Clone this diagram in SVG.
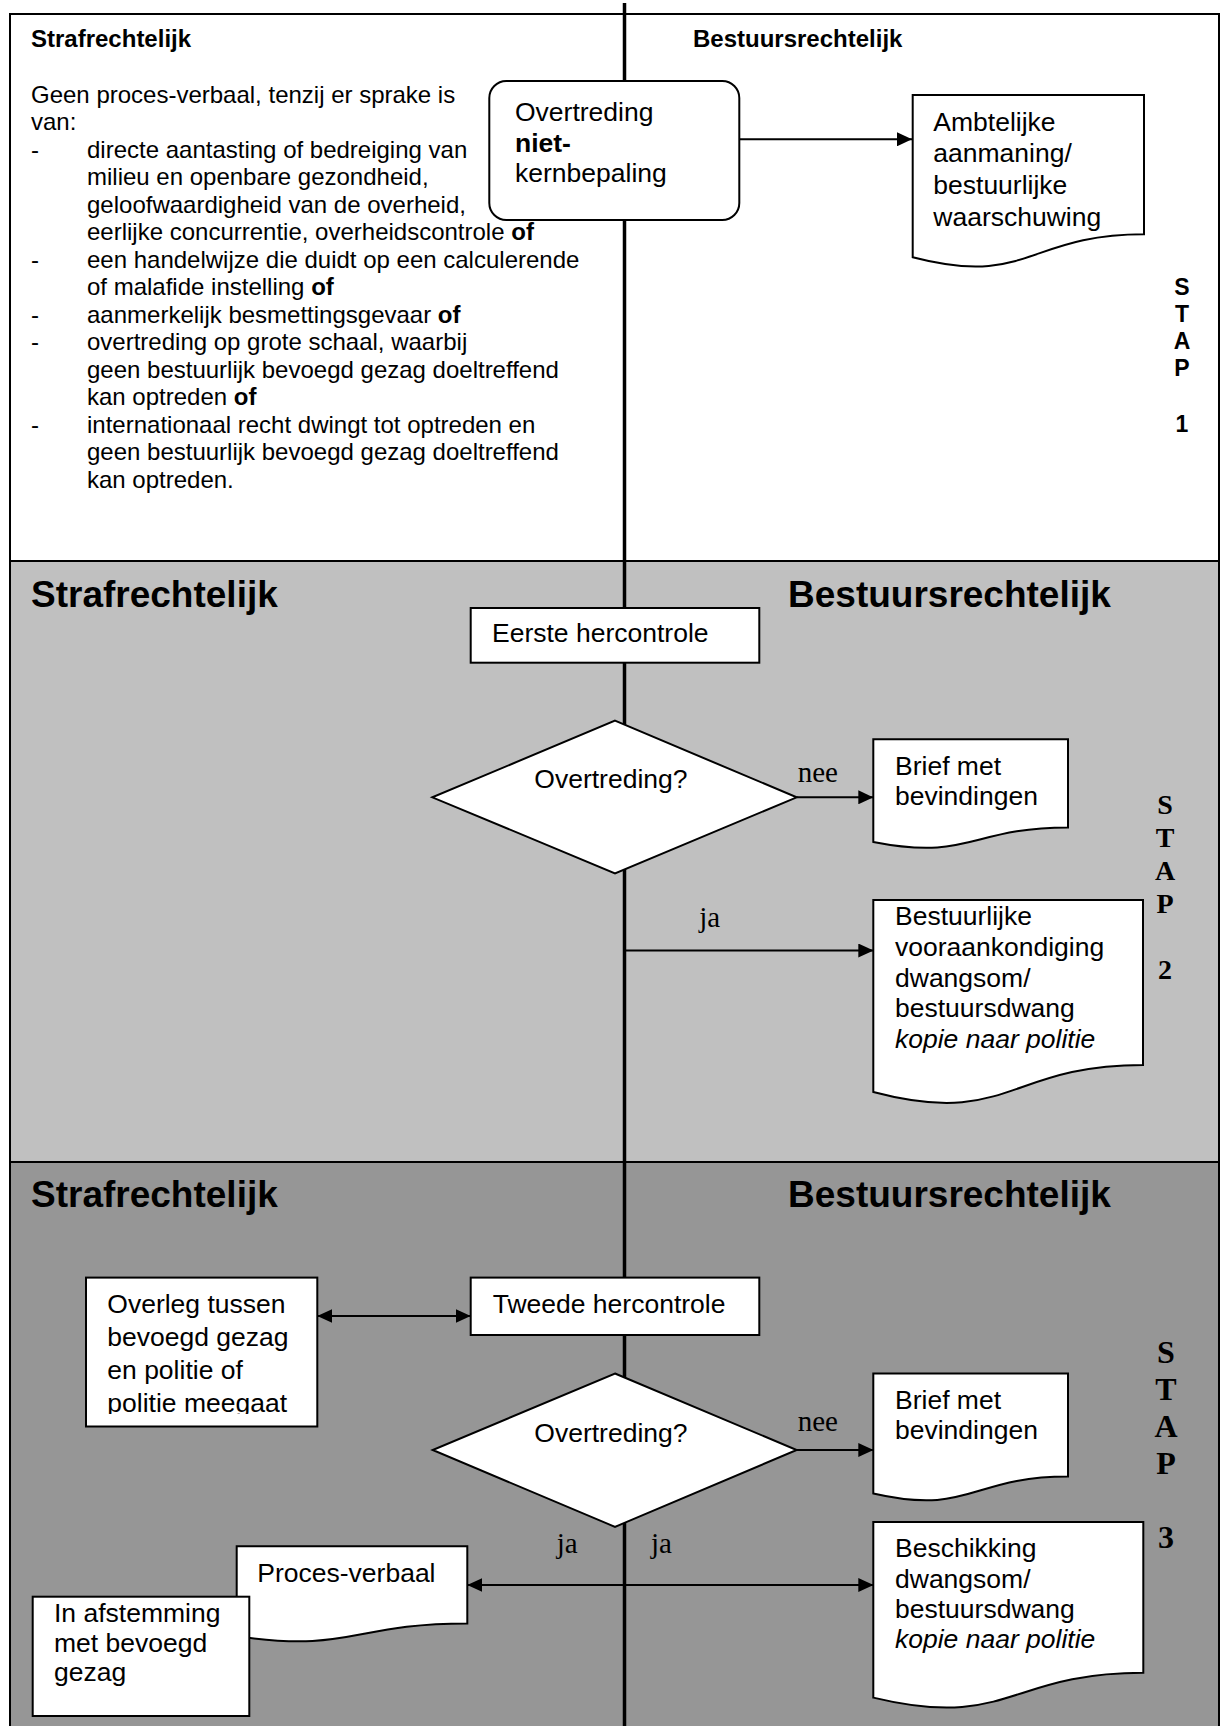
<svg xmlns="http://www.w3.org/2000/svg" width="1226" height="1726" viewBox="0 0 1226 1726">
<style>
.sec{stroke:#000;stroke-width:2}
.box{fill:#fff;stroke:#000;stroke-width:2}
.conn{stroke:#000;stroke-width:2;fill:none}
.t{font-family:"Liberation Sans",Arial,sans-serif;font-size:26.5px;fill:#000}
.body{font-family:"Liberation Sans",Arial,sans-serif;font-size:24px;fill:#000}
.h1{font-family:"Liberation Sans",Arial,sans-serif;font-size:24px;font-weight:bold;fill:#000}
.h2{font-family:"Liberation Sans",Arial,sans-serif;font-size:37px;font-weight:bold;fill:#000}
.lbl{font-family:"Liberation Serif","Times New Roman",serif;font-size:29px;fill:#000}
.stap1{font-family:"Liberation Sans",Arial,sans-serif;font-size:23px;font-weight:bold;text-anchor:middle}
.stap2{font-family:"Liberation Serif","Times New Roman",serif;font-size:28px;font-weight:bold;text-anchor:middle}
.stap3{font-family:"Liberation Serif","Times New Roman",serif;font-size:32px;font-weight:bold;text-anchor:middle}
</style>
<defs>
<marker id="ah" markerWidth="15" markerHeight="14" refX="15" refY="7" orient="auto-start-reverse" markerUnits="userSpaceOnUse"><path d="M0,0 L15,7 L0,14 z" fill="#000"/></marker>
<clipPath id="clipOverleg"><rect x="86" y="1278" width="231" height="136"/></clipPath>
</defs>
<rect width="1226" height="1726" fill="#fff"/>
<g id="sections">
<rect class="sec" x="10" y="14" width="1209" height="547" fill="#fff"/>
<rect class="sec" x="10" y="561" width="1209" height="601" fill="#c0c0c0"/>
<rect class="sec" x="10" y="1162" width="1209" height="580" fill="#969696"/>
</g>
<g id="headers">
<text class="h1" x="31" y="47">Strafrechtelijk</text>
<text class="h1" x="693" y="47">Bestuursrechtelijk</text>
<text class="h2" x="31" y="607">Strafrechtelijk</text>
<text class="h2" x="788" y="607">Bestuursrechtelijk</text>
<text class="h2" x="31" y="1207">Strafrechtelijk</text>
<text class="h2" x="788" y="1207">Bestuursrechtelijk</text>
</g>
<g id="criteria">
<text class="body" x="31" y="102.5">Geen proces-verbaal, tenzij er sprake is</text>
<text class="body" x="31" y="130">van:</text>
<text class="body" x="31" y="157.5">-</text>
<text class="body" x="87" y="157.5">directe aantasting of bedreiging van</text>
<text class="body" x="87" y="185">milieu en openbare gezondheid,</text>
<text class="body" x="87" y="212.5">geloofwaardigheid van de overheid,</text>
<text class="body" x="87" y="240">eerlijke concurrentie, overheidscontrole <tspan font-weight="bold">of</tspan></text>
<text class="body" x="31" y="267.5">-</text>
<text class="body" x="87" y="267.5">een handelwijze die duidt op een calculerende</text>
<text class="body" x="87" y="295">of malafide instelling <tspan font-weight="bold">of</tspan></text>
<text class="body" x="31" y="322.5">-</text>
<text class="body" x="87" y="322.5">aanmerkelijk besmettingsgevaar <tspan font-weight="bold">of</tspan></text>
<text class="body" x="31" y="350">-</text>
<text class="body" x="87" y="350">overtreding op grote schaal, waarbij</text>
<text class="body" x="87" y="377.5">geen bestuurlijk bevoegd gezag doeltreffend</text>
<text class="body" x="87" y="405">kan optreden <tspan font-weight="bold">of</tspan></text>
<text class="body" x="31" y="432.5">-</text>
<text class="body" x="87" y="432.5">internationaal recht dwingt tot optreden en</text>
<text class="body" x="87" y="460">geen bestuurlijk bevoegd gezag doeltreffend</text>
<text class="body" x="87" y="487.5">kan optreden.</text>
</g>
<g id="stap-labels">
<text class="stap1" x="1182" y="295">S</text>
<text class="stap1" x="1182" y="322">T</text>
<text class="stap1" x="1182" y="349">A</text>
<text class="stap1" x="1182" y="376">P</text>
<text class="stap1" x="1182" y="432">1</text>
<text class="stap2" x="1165" y="814">S</text>
<text class="stap2" x="1165" y="847">T</text>
<text class="stap2" x="1165" y="880">A</text>
<text class="stap2" x="1165" y="913">P</text>
<text class="stap2" x="1165" y="979">2</text>
<text class="stap3" x="1166" y="1363">S</text>
<text class="stap3" x="1166" y="1400">T</text>
<text class="stap3" x="1166" y="1437">A</text>
<text class="stap3" x="1166" y="1474">P</text>
<text class="stap3" x="1166" y="1548">3</text>
</g>
<g id="connectors">
<line x1="624.5" y1="3" x2="624.5" y2="1726" stroke="#000" stroke-width="3.5"/>
<line class="conn" x1="739.3" y1="139.3" x2="912" y2="139.3" marker-end="url(#ah)"/>
<line class="conn" x1="796.7" y1="797.3" x2="873.3" y2="797.3" marker-end="url(#ah)"/>
<line class="conn" x1="625" y1="950.5" x2="873.3" y2="950.5" marker-end="url(#ah)"/>
<line class="conn" x1="317.3" y1="1316" x2="470.7" y2="1316" marker-start="url(#ah)" marker-end="url(#ah)"/>
<line class="conn" x1="796.7" y1="1450" x2="873.3" y2="1450" marker-end="url(#ah)"/>
<line class="conn" x1="625" y1="1585" x2="873.3" y2="1585" marker-end="url(#ah)"/>
<line class="conn" x1="625" y1="1585" x2="467.3" y2="1585" marker-end="url(#ah)"/>
<text class="lbl" x="797.7" y="782.3">nee</text>
<text class="lbl" x="699.3" y="927">ja</text>
<text class="lbl" x="797.7" y="1431">nee</text>
<text class="lbl" x="556.7" y="1552.6">ja</text>
<text class="lbl" x="651" y="1552.6">ja</text>
</g>
<g id="node-overtreding1">
<rect class="box" x="489.3" y="81" width="250" height="139" rx="17" ry="17"/>
<text class="t" x="515" y="120.7">Overtreding</text>
<text class="t" x="515" y="151.7" font-weight="bold">niet-</text>
<text class="t" x="515" y="181.7">kernbepaling</text>
</g>
<g id="node-ambtelijke">
<path class="box" d="M912.7,95 H1144 V234.3 C1028.35,234.3 1028.35,287.4 912.7,257.2 Z"/>
<text class="t" x="933.3" y="130.7">Ambtelijke</text>
<text class="t" x="933.3" y="162.3">aanmaning/</text>
<text class="t" x="933.3" y="194">bestuurlijke</text>
<text class="t" x="933.3" y="225.7">waarschuwing</text>
</g>
<g id="node-eerste">
<rect class="box" x="470.7" y="608" width="288.6" height="54.7"/>
<text class="t" x="492" y="641.5">Eerste hercontrole</text>
</g>
<g id="node-diamond1">
<path class="box" d="M615,720.7 L796.7,797.3 L615,873.3 L432.3,797.3 Z"/>
<text class="t" x="534.3" y="788.3">Overtreding?</text>
</g>
<g id="node-brief1">
<path class="box" d="M873.3,739.3 H1068 V827.5 C970.65,827.5 970.65,861.1 873.3,842 Z"/>
<text class="t" x="895" y="775">Brief met</text>
<text class="t" x="895" y="805">bevindingen</text>
</g>
<g id="node-vooraankondiging">
<path class="box" d="M873.3,900 H1143 V1064.9 C1008.15,1064.9 1008.15,1127.7 873.3,1092 Z"/>
<text class="t" x="895" y="925">Bestuurlijke</text>
<text class="t" x="895" y="956">vooraankondiging</text>
<text class="t" x="895" y="986.5">dwangsom/</text>
<text class="t" x="895" y="1017">bestuursdwang</text>
<text class="t" x="895" y="1047.5" font-style="italic">kopie naar politie</text>
</g>
<g id="node-overleg">
<rect class="box" x="86" y="1277.6" width="231.3" height="148.9"/>
<g clip-path="url(#clipOverleg)">
<text class="t" x="107.3" y="1312.5">Overleg tussen</text>
<text class="t" x="107.3" y="1345.6">bevoegd gezag</text>
<text class="t" x="107.3" y="1378.7">en politie of</text>
<text class="t" x="107.3" y="1411.8">politie meegaat</text>
</g>
</g>
<g id="node-tweede">
<rect class="box" x="470.7" y="1277.6" width="288.6" height="57.4"/>
<text class="t" x="492.7" y="1313">Tweede hercontrole</text>
</g>
<g id="node-diamond2">
<path class="box" d="M615,1373.5 L796.7,1450 L615,1526.8 L432.7,1450 Z"/>
<text class="t" x="534.3" y="1442.3">Overtreding?</text>
</g>
<g id="node-brief2">
<path class="box" d="M873.3,1373.5 H1068 V1476.5 C970.65,1476.5 970.65,1515.8 873.3,1493.5 Z"/>
<text class="t" x="895" y="1409">Brief met</text>
<text class="t" x="895" y="1439">bevindingen</text>
</g>
<g id="node-beschikking">
<path class="box" d="M873.3,1522 H1143.3 V1672.8 C1008.3,1672.8 1008.3,1730.2 873.3,1697.6 Z"/>
<text class="t" x="895" y="1557">Beschikking</text>
<text class="t" x="895" y="1587.5">dwangsom/</text>
<text class="t" x="895" y="1617.5">bestuursdwang</text>
<text class="t" x="895" y="1648" font-style="italic">kopie naar politie</text>
</g>
<g id="node-procesverbaal">
<path class="box" d="M236.7,1546.3 H467.3 V1623.5 C352,1623.5 352,1652.9 236.7,1636.2 Z"/>
<text class="t" x="257.3" y="1582">Proces-verbaal</text>
</g>
<g id="node-afstemming">
<rect class="box" x="32.7" y="1596.7" width="216.6" height="119.3"/>
<text class="t" x="54" y="1622.4">In afstemming</text>
<text class="t" x="54" y="1651.8">met bevoegd</text>
<text class="t" x="54" y="1681.3">gezag</text>
</g>
</svg>
